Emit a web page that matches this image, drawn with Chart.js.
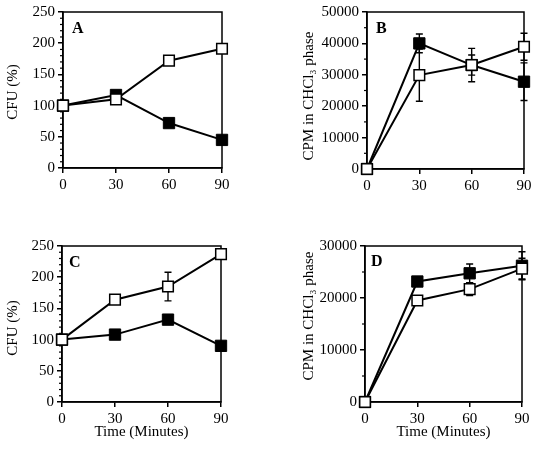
<!DOCTYPE html>
<html><head><meta charset="utf-8">
<script src="https://cdn.jsdelivr.net/npm/chart.js@4"></script>
<style>
html,body{margin:0;padding:0;background:#fff;}
#wrap{position:relative;width:538px;height:451px;overflow:hidden;background:#fff;}
canvas{position:absolute;}
</style></head><body>
<div id="wrap">
<canvas id="cA" width="269" height="205" style="left:0;top:0"></canvas>
<canvas id="cB" width="269" height="205" style="left:269px;top:0"></canvas>
<canvas id="cC" width="269" height="246" style="left:0;top:205px"></canvas>
<canvas id="cD" width="269" height="246" style="left:269px;top:205px"></canvas>
</div>
<script>
// ---- data ----
const times = [0, 30, 60, 90];
const xTickLabels = ['0', '30', '60', '90'];

const aOpen = [100, 110, 172, 191];
const aFilled = [100, 117, 72, 45];

const bOpen = [0, 29900, 33100, 38950];
const bOpenErr = [0, 8300, 5300, 4300];
const bFilled = [0, 40000, 33100, 27800];
const bFilledErr = [0, 3000, 3200, 6000];

const cOpen = [100, 164, 185, 237];
const cOpenErr = [0, 0, 23, 0];
const cFilled = [100, 108, 132, 90];
const cFilledErr = [0, 0, 0, 0];

const dOpen = [0, 19530, 21700, 25640];
const dOpenErr = [0, 0, 1250, 2000];
const dFilled = [0, 23170, 24750, 26200];
const dFilledErr = [0, 0, 1800, 2700];

const cfuTitle = 'CFU (%)';
const cpmTitle = 'CPM in CHCl\u2083 phase';
const timeTitle = 'Time (Minutes)';

// ---- drawing ----
const SERIF = '"Liberation Serif", "Times New Roman", Times, serif';

const panelPlugin = {
  id: 'panel',
  beforeDatasetsDraw(chart, args, o) {
    const ctx = chart.ctx, a = chart.chartArea;
    const xs = chart.scales.x, ys = chart.scales.y;
    ctx.save();
    ctx.strokeStyle = '#000';
    ctx.lineWidth = 1.5;
    ctx.strokeRect(a.left, a.top, a.right - a.left, a.bottom - a.top);
    // minor ticks
    ctx.lineWidth = 1.2;
    for (let v = ys.min; v <= ys.max + 1e-9; v += o.minor) {
      if (Math.abs(v / o.major - Math.round(v / o.major)) < 1e-9) continue;
      const y = ys.getPixelForValue(v);
      ctx.beginPath(); ctx.moveTo(a.left - 3, y); ctx.lineTo(a.left, y); ctx.stroke();
    }
    // error bars
    ctx.lineWidth = 1.4;
    chart.data.datasets.forEach(ds => {
      const err = ds.errors || [];
      ds.data.forEach((p, j) => {
        const e = err[j];
        if (!e) return;
        const x = xs.getPixelForValue(p.x);
        const yh = ys.getPixelForValue(p.y + e);
        const yl = ys.getPixelForValue(p.y - e);
        ctx.beginPath();
        ctx.moveTo(x, yh); ctx.lineTo(x, yl);
        ctx.moveTo(x - 3.5, yh); ctx.lineTo(x + 3.5, yh);
        ctx.moveTo(x - 3.5, yl); ctx.lineTo(x + 3.5, yl);
        ctx.stroke();
      });
    });
    ctx.restore();
  },
  afterDraw(chart, args, o) {
    const ctx = chart.ctx, a = chart.chartArea;
    ctx.save();
    ctx.fillStyle = '#000';
    ctx.font = 'bold 16px ' + SERIF;
    ctx.textAlign = 'left';
    ctx.textBaseline = 'alphabetic';
    ctx.fillText(o.letter, a.left + o.lx, a.top + o.ly);
    ctx.font = '15px ' + SERIF;
    ctx.translate(o.tx, o.ty);
    ctx.rotate(-Math.PI / 2);
    ctx.textAlign = 'center';
    ctx.textBaseline = 'middle';
    ctx.fillText(o.ytitle, 0, 0);
    ctx.restore();
  }
};

function panel(id, o) {
  const font = { family: SERIF, size: 15 };
  const pts = arr => arr.map((y, i) => ({ x: times[i], y }));
  new Chart(document.getElementById(id), {
    type: 'line',
    data: {
      datasets: [
        { data: pts(o.open), errors: o.openErr, borderColor: '#000', borderWidth: 2,
          pointStyle: 'rect', pointRadius: 7.5, pointBorderWidth: 1.5,
          pointBackgroundColor: '#fff', pointBorderColor: '#000', clip: false, tension: 0 },
        { data: pts(o.filled), errors: o.filledErr, borderColor: '#000', borderWidth: 2,
          pointStyle: 'rect', pointRadius: 8, pointBorderWidth: 1,
          pointBackgroundColor: '#000', pointBorderColor: '#000', clip: false, tension: 0 }
      ]
    },
    options: {
      responsive: false, animation: false, events: [],
      layout: { padding: o.pad },
      plugins: {
        legend: { display: false }, tooltip: { enabled: false },
        panel: { letter: o.letter, lx: o.lx, ly: o.ly, ytitle: o.ytitle, tx: o.tx, ty: o.ty,
                 major: o.major, minor: o.minor }
      },
      scales: {
        x: {
          type: 'linear', min: 0, max: 90,
          afterFit: s => { s.height = o.xh; },
          afterBuildTicks: s => { s.ticks = times.map(v => ({ value: v })); },
          ticks: { color: '#000', font, padding: 3, maxRotation: 0, autoSkip: false,
                   callback: (v) => xTickLabels[times.indexOf(v)] },
          grid: { drawOnChartArea: false, tickLength: 5, color: '#000', lineWidth: 1.5 },
          border: { color: '#000', width: 1.5 },
          title: { display: !!o.xtitle, text: o.xtitle || '', color: '#000', font, padding: { top: 0, bottom: 0 } }
        },
        y: {
          type: 'linear', min: 0, max: o.ymax,
          afterFit: s => { s.width = o.yw; },
          ticks: { stepSize: o.major, color: '#000', font, padding: 3, autoSkip: false,
                   callback: (v) => String(v) },
          grid: { drawOnChartArea: false, tickLength: 5, color: '#000', lineWidth: 1.5 },
          border: { color: '#000', width: 1.5 }
        }
      }
    },
    plugins: [panelPlugin]
  });
}

panel('cA', { open: aOpen, openErr: null, filled: aFilled, filledErr: null,
  ymax: 250, major: 50, minor: 10, yw: 63, xh: 30,
  pad: { left: 0, top: 12, right: 47, bottom: 7 },
  letter: 'A', lx: 9, ly: 21, ytitle: cfuTitle, tx: 13, ty: 92 });

panel('cB', { open: bOpen, openErr: bOpenErr, filled: bFilled, filledErr: bFilledErr,
  ymax: 50000, major: 10000, minor: 5000, yw: 98, xh: 30,
  pad: { left: 0, top: 12, right: 14, bottom: 6 },
  letter: 'B', lx: 9, ly: 21, ytitle: cpmTitle, tx: 40, ty: 96 });

panel('cC', { open: cOpen, openErr: cOpenErr, filled: cFilled, filledErr: cFilledErr,
  ymax: 250, major: 50, minor: 10, yw: 62, xh: 39, xtitle: timeTitle,
  pad: { left: 0, top: 41, right: 48, bottom: 10 },
  letter: 'C', lx: 7, ly: 21, ytitle: cfuTitle, tx: 13, ty: 123 });

panel('cD', { open: dOpen, openErr: dOpenErr, filled: dFilled, filledErr: dFilledErr,
  ymax: 30000, major: 10000, minor: 5000, yw: 96, xh: 39, xtitle: timeTitle,
  pad: { left: 0, top: 41, right: 16, bottom: 10 },
  letter: 'D', lx: 6, ly: 20, ytitle: cpmTitle, tx: 40, ty: 111 });
</script>
</body></html>
